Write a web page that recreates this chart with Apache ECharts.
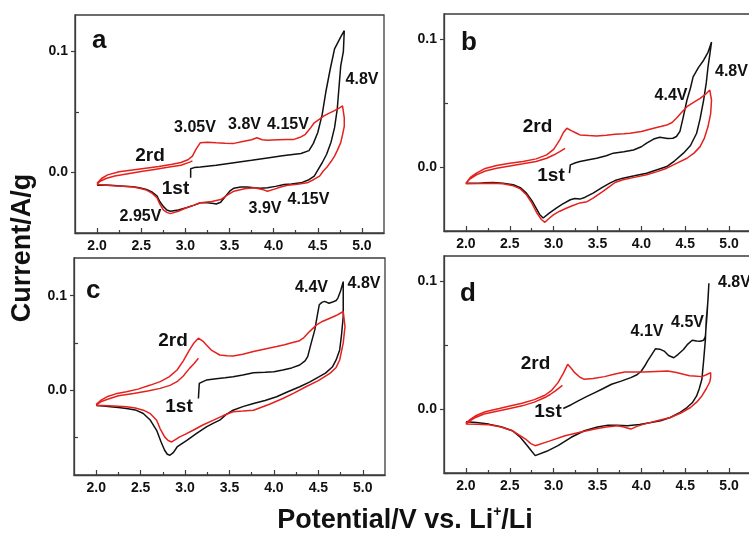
<!DOCTYPE html>
<html>
<head>
<meta charset="utf-8">
<title>CV curves</title>
<script src="https://cdn.jsdelivr.net/npm/echarts@6/dist/echarts.min.js"></script>
<style>
    html, body { margin: 0; padding: 0; background: #fff; }
    #cv-chart { width: 749px; height: 542px; }
</style>
</head>
<body>
<div id="cv-chart"></div>
<script>
// tick values shared by all four panels
var xMajor = [2.0, 2.5, 3.0, 3.5, 4.0, 4.5, 5.0];
var xMinor = [2.25, 2.75, 3.25, 3.75, 4.25, 4.75];
var yMajor = [0.0, 0.1];
var yMinor = [-0.05, 0.05];

// panel a : [potential V, current A/g]
var aFirst = [[3.06,-0.0044],[3.06,0.003],[3.1,0.004],[3.17,0.0044],[3.35,0.006],[3.55,0.008],[3.75,0.010],[3.93,0.012],[4.1,0.0138],[4.31,0.0157],[4.4,0.018],[4.45,0.024],[4.5,0.033],[4.55,0.048],[4.59,0.066],[4.64,0.085],[4.69,0.102],[4.76,0.112],[4.8,0.117],
    [4.79,0.1],[4.76,0.088],[4.74,0.07],[4.72,0.052],[4.69,0.037],[4.65,0.025],[4.6,0.015],[4.55,0.008],[4.5,0.002],[4.46,-0.003],[4.4,-0.006],[4.31,-0.0086],[4.2,-0.0095],[4.12,-0.01],[4.02,-0.0115],[3.93,-0.0127],[3.85,-0.013],[3.78,-0.0127],[3.7,-0.012],[3.625,-0.012],[3.55,-0.013],[3.51,-0.015],[3.45,-0.02],[3.4,-0.0246],[3.35,-0.026],[3.32,-0.0257],[3.25,-0.025],[3.17,-0.025],[3.1,-0.027],[3.02,-0.029],[2.92,-0.031],[2.83,-0.032],[2.79,-0.031],[2.75,-0.028],[2.71,-0.024],[2.68,-0.0196],[2.62,-0.016],[2.56,-0.014],[2.48,-0.0126],[2.41,-0.0119],[2.3,-0.0113],[2.19,-0.0108],[2.1,-0.0104],[2.0,-0.0105]];
var aSecond = [[2.0,-0.009],[2.05,-0.005],[2.12,-0.002],[2.25,0.0005],[2.4,0.002],[2.55,0.0035],[2.7,0.005],[2.85,0.0068],[2.95,0.0082],[3.03,0.0105],[3.08,0.0135],[3.12,0.019],[3.17,0.0246],[3.25,0.025],[3.35,0.0245],[3.45,0.0242],[3.55,0.024],[3.65,0.0255],[3.75,0.027],[3.81,0.0287],[3.87,0.027],[3.93,0.0265],[4.05,0.027],[4.15,0.0272],[4.23,0.0273],[4.3,0.029],[4.36,0.0315],[4.41,0.036],[4.46,0.041],[4.52,0.044],[4.57,0.0467],[4.63,0.049],[4.69,0.051],[4.74,0.053],[4.78,0.055],[4.8,0.054],
    [4.8,0.045],[4.8,0.038],[4.78,0.031],[4.76,0.0246],[4.72,0.018],[4.69,0.0135],[4.65,0.009],[4.61,0.005],[4.56,0.001],[4.52,-0.003],[4.45,-0.006],[4.38,-0.0086],[4.27,-0.0097],[4.16,-0.0105],[4.08,-0.012],[4.0,-0.014],[3.93,-0.0155],[3.87,-0.014],[3.78,-0.0127],[3.67,-0.0135],[3.55,-0.0155],[3.47,-0.019],[3.4,-0.0224],[3.3,-0.024],[3.17,-0.025],[3.1,-0.027],[3.02,-0.029],[2.92,-0.032],[2.83,-0.034],[2.79,-0.033],[2.75,-0.031],[2.71,-0.026],[2.68,-0.021],[2.62,-0.017],[2.56,-0.0146],[2.48,-0.013],[2.41,-0.012],[2.3,-0.0115],[2.19,-0.011],[2.1,-0.0105],[2.0,-0.0100],
    [2.03,-0.0075],[2.1,-0.005],[2.2,-0.003],[2.35,-0.001],[2.5,0.0008],[2.65,0.0025],[2.8,0.0042],[2.95,0.006],[3.05,0.0085],[3.08,0.0095]];

// panel b
var bFirst = [[3.18,-0.0047],[3.19,0.0018],[3.25,0.0035],[3.3,0.0044],[3.4,0.0058],[3.49,0.007],[3.6,0.009],[3.68,0.011],[3.8,0.012],[3.91,0.0135],[4.0,0.016],[4.06,0.0188],[4.14,0.022],[4.21,0.0234],[4.3,0.0225],[4.36,0.0227],[4.4,0.024],[4.44,0.028],[4.48,0.04],[4.52,0.0526],[4.56,0.062],[4.59,0.0708],[4.65,0.078],[4.71,0.0838],[4.76,0.09],[4.8,0.098],
    [4.78,0.088],[4.76,0.0786],[4.74,0.066],[4.71,0.0526],[4.67,0.038],[4.63,0.0266],[4.56,0.017],[4.48,0.011],[4.38,0.005],[4.29,0.0005],[4.18,-0.002],[4.06,-0.0047],[3.92,-0.0068],[3.79,-0.0086],[3.7,-0.0105],[3.64,-0.0125],[3.55,-0.016],[3.45,-0.0203],[3.36,-0.0235],[3.3,-0.025],[3.24,-0.0245],[3.19,-0.0255],[3.1,-0.029],[3.03,-0.032],[2.95,-0.036],[2.88,-0.0398],[2.84,-0.037],[2.81,-0.0333],[2.75,-0.026],[2.69,-0.0203],[2.62,-0.016],[2.54,-0.0138],[2.42,-0.0125],[2.31,-0.012],[2.22,-0.0122],[2.16,-0.0125],[2.08,-0.0125],[2.0,-0.0125]];
var bSecond = [[2.0,-0.0125],[2.05,-0.008],[2.12,-0.0047],[2.22,-0.001],[2.35,0.0013],[2.5,0.003],[2.65,0.0044],[2.8,0.0065],[2.92,0.0096],[3.0,0.014],[3.07,0.0214],[3.11,0.027],[3.15,0.0305],[3.2,0.0286],[3.25,0.027],[3.3,0.0253],[3.4,0.0248],[3.49,0.0245],[3.6,0.025],[3.7,0.0258],[3.8,0.0262],[3.87,0.0266],[4.0,0.028],[4.14,0.0305],[4.22,0.0318],[4.29,0.033],[4.35,0.035],[4.4,0.0383],[4.46,0.043],[4.52,0.0474],[4.6,0.051],[4.67,0.0539],[4.73,0.057],[4.78,0.0604],[4.8,0.0617],
    [4.8,0.0526],[4.79,0.042],[4.76,0.0318],[4.72,0.023],[4.67,0.0161],[4.6,0.011],[4.52,0.007],[4.4,0.003],[4.29,-0.0008],[4.18,-0.0035],[4.06,-0.006],[3.92,-0.008],[3.79,-0.0099],[3.7,-0.012],[3.64,-0.0151],[3.55,-0.0195],[3.45,-0.0242],[3.38,-0.027],[3.3,-0.028],[3.22,-0.03],[3.15,-0.032],[3.07,-0.0345],[3.0,-0.0372],[2.95,-0.04],[2.9,-0.0432],[2.86,-0.041],[2.81,-0.036],[2.75,-0.028],[2.69,-0.0216],[2.62,-0.017],[2.54,-0.0146],[2.42,-0.013],[2.31,-0.0125],[2.15,-0.0128],[2.0,-0.013],
    [2.04,-0.0095],[2.12,-0.006],[2.22,-0.003],[2.35,-0.0008],[2.5,0.001],[2.65,0.0026],[2.8,0.0045],[2.92,0.007],[3.0,0.0095],[3.07,0.0122],[3.13,0.0148]];

// panel c
var cFirst = [[3.15,-0.0089],[3.16,0.0071],[3.2,0.009],[3.24,0.0106],[3.35,0.012],[3.45,0.013],[3.54,0.0142],[3.65,0.016],[3.77,0.0184],[3.9,0.019],[4.0,0.0195],[4.1,0.0213],[4.2,0.0235],[4.29,0.0266],[4.35,0.031],[4.38,0.0355],[4.42,0.05],[4.46,0.0638],[4.49,0.08],[4.51,0.0904],[4.54,0.093],[4.57,0.094],[4.62,0.092],[4.66,0.0933],[4.7,0.095],[4.72,0.0975],[4.75,0.105],[4.78,0.115],
    [4.78,0.1],[4.78,0.078],[4.76,0.058],[4.74,0.0426],[4.7,0.032],[4.66,0.0248],[4.58,0.018],[4.51,0.0142],[4.4,0.0085],[4.29,0.0035],[4.15,-0.002],[4.03,-0.0071],[3.9,-0.011],[3.77,-0.0142],[3.65,-0.0175],[3.54,-0.0213],[3.46,-0.026],[3.39,-0.0319],[3.32,-0.035],[3.24,-0.039],[3.13,-0.046],[3.02,-0.0532],[2.96,-0.057],[2.91,-0.0603],[2.87,-0.066],[2.83,-0.0691],[2.8,-0.068],[2.77,-0.0638],[2.73,-0.055],[2.68,-0.0426],[2.61,-0.032],[2.53,-0.0248],[2.44,-0.021],[2.34,-0.0195],[2.25,-0.0185],[2.16,-0.0177],[2.08,-0.017],[2.0,-0.0163]];
var cSecond = [[2.0,-0.0152],[2.05,-0.011],[2.12,-0.0071],[2.22,-0.004],[2.34,-0.0018],[2.47,0.001],[2.61,0.0053],[2.72,0.009],[2.82,0.014],[2.91,0.0213],[2.98,0.031],[3.05,0.0426],[3.1,0.05],[3.15,0.055],[3.2,0.052],[3.24,0.0479],[3.3,0.042],[3.39,0.0372],[3.47,0.0365],[3.54,0.0362],[3.65,0.038],[3.77,0.0408],[3.9,0.0435],[4.03,0.0461],[4.12,0.048],[4.21,0.0504],[4.28,0.052],[4.33,0.055],[4.4,0.062],[4.48,0.0691],[4.55,0.073],[4.63,0.0762],[4.7,0.079],[4.78,0.0833],[4.8,0.082],
    [4.8,0.0674],[4.78,0.05],[4.74,0.0319],[4.7,0.024],[4.63,0.0177],[4.5,0.01],[4.36,0.0035],[4.23,-0.003],[4.1,-0.0089],[3.95,-0.015],[3.77,-0.0213],[3.65,-0.0222],[3.54,-0.023],[3.43,-0.027],[3.32,-0.0319],[3.2,-0.037],[3.09,-0.0426],[3.0,-0.047],[2.94,-0.0496],[2.85,-0.055],[2.81,-0.0535],[2.77,-0.0496],[2.72,-0.041],[2.68,-0.0319],[2.61,-0.025],[2.53,-0.0213],[2.44,-0.019],[2.34,-0.0177],[2.2,-0.0168],[2.0,-0.016],
    [2.05,-0.0125],[2.12,-0.0099],[2.25,-0.006],[2.42,-0.0035],[2.58,-0.001],[2.72,0.0018],[2.83,0.005],[2.91,0.0089],[2.98,0.015],[3.05,0.023],[3.1,0.028],[3.15,0.0337]];

// panel d
var dFirst = [[3.11,0.0005],[3.2,0.0035],[3.28,0.0065],[3.38,0.01],[3.47,0.013],[3.56,0.016],[3.66,0.0195],[3.77,0.022],[3.88,0.0247],[3.95,0.027],[4.0,0.0299],[4.04,0.034],[4.07,0.0377],[4.12,0.043],[4.16,0.0473],[4.21,0.047],[4.26,0.0455],[4.31,0.042],[4.37,0.0403],[4.42,0.043],[4.48,0.0468],[4.53,0.051],[4.58,0.054],[4.63,0.0535],[4.67,0.0532],[4.71,0.054],[4.73,0.0571],[4.75,0.075],[4.77,0.0987],
    [4.76,0.0857],[4.74,0.07],[4.73,0.0545],[4.71,0.038],[4.69,0.0234],[4.66,0.016],[4.63,0.0104],[4.58,0.005],[4.52,0.0013],[4.43,-0.003],[4.33,-0.0065],[4.22,-0.009],[4.11,-0.0104],[3.98,-0.012],[3.84,-0.013],[3.72,-0.0125],[3.62,-0.0125],[3.5,-0.014],[3.35,-0.0169],[3.2,-0.022],[3.05,-0.0286],[2.92,-0.033],[2.79,-0.0364],[2.75,-0.033],[2.7,-0.0286],[2.62,-0.022],[2.53,-0.0169],[2.4,-0.0138],[2.26,-0.0117],[2.12,-0.0105],[2.0,-0.0099]];
var dSecond = [[2.0,-0.0109],[2.05,-0.008],[2.11,-0.0052],[2.22,-0.002],[2.38,0.0005],[2.5,0.0025],[2.64,0.0047],[2.78,0.0075],[2.9,0.0109],[2.98,0.015],[3.05,0.0208],[3.11,0.028],[3.16,0.0351],[3.2,0.032],[3.24,0.0286],[3.3,0.025],[3.35,0.0234],[3.45,0.024],[3.58,0.0255],[3.7,0.0275],[3.81,0.0291],[3.92,0.0292],[4.03,0.0291],[4.17,0.0295],[4.3,0.0299],[4.4,0.0288],[4.48,0.0273],[4.55,0.0262],[4.6,0.026],[4.69,0.0255],[4.74,0.027],[4.79,0.0286],
    [4.79,0.025],[4.78,0.0213],[4.74,0.016],[4.69,0.0104],[4.63,0.0055],[4.56,0.0013],[4.45,-0.003],[4.33,-0.0065],[4.18,-0.009],[4.03,-0.0117],[3.95,-0.0135],[3.88,-0.0156],[3.8,-0.014],[3.73,-0.013],[3.6,-0.014],[3.47,-0.0156],[3.3,-0.018],[3.13,-0.0208],[2.95,-0.025],[2.79,-0.0286],[2.74,-0.027],[2.68,-0.0234],[2.6,-0.02],[2.53,-0.0169],[2.4,-0.014],[2.26,-0.0122],[2.12,-0.0118],[2.0,-0.0117],
    [2.05,-0.009],[2.11,-0.0065],[2.22,-0.0035],[2.38,-0.0013],[2.5,0.0005],[2.64,0.0026],[2.78,0.0055],[2.9,0.0091],[2.96,0.0115],[3.02,0.0143],[3.1,0.0187]];

var FONT = '"Liberation Sans", Arial, sans-serif';
var AXIS_COLOR = '#3c3c3c';

// four panels, laid out like the original figure (b and d run off the right edge)
var panels = [
    {box: {left: 75, top: 15, width: 309, height: 218}, yMin: -0.05, yMax: 0.13, first: aFirst, second: aSecond},
    {box: {left: 444, top: 14, width: 307, height: 217}, yMin: -0.05, yMax: 0.12, first: bFirst, second: bSecond},
    {box: {left: 74, top: 258, width: 311, height: 217}, yMin: -0.09, yMax: 0.14, first: cFirst, second: cSecond},
    {box: {left: 444, top: 256, width: 307, height: 217}, yMin: -0.05, yMax: 0.12, first: dFirst, second: dSecond}
];

var grids = [], xAxes = [], yAxes = [], series = [];

panels.forEach(function (p, i) {
    grids.push({
        left: p.box.left, top: p.box.top, width: p.box.width, height: p.box.height,
        show: true, borderColor: AXIS_COLOR, borderWidth: 1.3,
        containLabel: false, outerBoundsMode: 'none'
    });

    // main x axis: labels + major ticks
    xAxes.push({
        type: 'value', gridIndex: i, position: 'bottom', min: 1.75, max: 5.25,
        axisLine: {onZero: false, lineStyle: {color: AXIS_COLOR, width: 1.3}},
        axisTick: {inside: true, length: 5, customValues: xMajor, lineStyle: {color: AXIS_COLOR, width: 1.2}},
        axisLabel: {customValues: xMajor, margin: 6, color: '#111', fontFamily: FONT, fontWeight: 'bold', fontSize: 14,
            formatter: function (v) { return v.toFixed(1); }},
        splitLine: {show: false}
    });
    // second x axis on the same line, only for the short minor ticks
    xAxes.push({
        type: 'value', gridIndex: i, position: 'bottom', min: 1.75, max: 5.25,
        axisLine: {show: false, onZero: false},
        axisTick: {inside: true, length: 3, customValues: xMinor, lineStyle: {color: AXIS_COLOR, width: 1.2}},
        axisLabel: {show: false},
        splitLine: {show: false}
    });

    yAxes.push({
        type: 'value', gridIndex: i, position: 'left', min: p.yMin, max: p.yMax,
        axisLine: {onZero: false, lineStyle: {color: AXIS_COLOR, width: 1.3}},
        axisTick: {inside: false, length: 4, customValues: yMajor, lineStyle: {color: AXIS_COLOR, width: 1.2}},
        axisLabel: {customValues: yMajor, margin: 7, color: '#111', fontFamily: FONT, fontWeight: 'bold', fontSize: 14,
            formatter: function (v) { return v.toFixed(1); }},
        splitLine: {show: false}
    });
    yAxes.push({
        type: 'value', gridIndex: i, position: 'left', min: p.yMin, max: p.yMax,
        axisLine: {show: false, onZero: false},
        axisTick: {inside: true, length: 4, customValues: yMinor, lineStyle: {color: AXIS_COLOR, width: 1.2}},
        axisLabel: {show: false},
        splitLine: {show: false}
    });

    series.push({
        name: '1st', type: 'line', xAxisIndex: 2 * i, yAxisIndex: 2 * i,
        data: p.first, showSymbol: false, symbol: 'none', z: 2,
        lineStyle: {color: '#111', width: 1.5}
    });
    series.push({
        name: '2rd', type: 'line', xAxisIndex: 2 * i, yAxisIndex: 2 * i,
        data: p.second, showSymbol: false, symbol: 'none', z: 3,
        lineStyle: {color: '#e5211d', width: 1.5}
    });
});

// text helper: x is the anchor, base is the baseline of the glyphs
function txt(s, x, base, size, align) {
    return {
        type: 'text', x: x, y: base - 0.35 * size, silent: true,
        style: {text: s, font: 'bold ' + size + 'px ' + FONT, fill: '#111',
            align: align || 'center', verticalAlign: 'middle'}
    };
}

var notes = [
    // panel a
    txt('a', 92, 50, 26, 'left'),
    txt('3.05V', 195, 133, 16), txt('3.8V', 244.5, 130, 16), txt('4.15V', 288, 130, 16),
    txt('4.8V', 362, 85, 16), txt('2rd', 150, 162, 19), txt('1st', 175.5, 195, 19),
    txt('2.95V', 140.5, 222, 16), txt('3.9V', 265, 214, 16), txt('4.15V', 308.5, 205, 16),
    // panel b
    txt('b', 461, 52, 26, 'left'),
    txt('4.8V', 715, 77, 16, 'left'), txt('4.4V', 671, 101, 16),
    txt('2rd', 537.5, 133, 19), txt('1st', 551, 182, 19),
    // panel c
    txt('c', 86, 300, 26, 'left'),
    txt('4.4V', 311.5, 293, 16), txt('4.8V', 364, 289, 16),
    txt('2rd', 173, 347, 19), txt('1st', 179, 413, 19),
    // panel d
    txt('d', 460, 303, 26, 'left'),
    txt('4.8V', 718, 288, 16, 'left'), txt('4.1V', 647, 337, 16), txt('4.5V', 687.5, 328, 16),
    txt('2rd', 535.5, 370, 19), txt('1st', 548, 418, 19)
];

// shared axis titles
notes.push({
    type: 'text', x: 23, y: 248, rotation: Math.PI / 2, silent: true,
    style: {text: 'Current/A/g', font: 'bold 27px ' + FONT, fill: '#111', align: 'center', verticalAlign: 'middle'}
});
notes.push({
    type: 'text', x: 405, y: 530 - 0.35 * 27, silent: true,
    style: {
        text: '{m|Potential/V vs. Li}{s|+}{m|/Li}',
        align: 'center', verticalAlign: 'middle',
        rich: {
            m: {font: 'bold 27px ' + FONT, fill: '#111', lineHeight: 30},
            s: {font: 'bold 14px ' + FONT, fill: '#111', lineHeight: 14, verticalAlign: 'top'}
        }
    }
});

var cvChart = echarts.init(document.getElementById('cv-chart'));
cvChart.setOption({
    animation: false,
    backgroundColor: '#fff',
    grid: grids,
    xAxis: xAxes,
    yAxis: yAxes,
    series: series,
    graphic: notes
});
</script>
</body>
</html>
